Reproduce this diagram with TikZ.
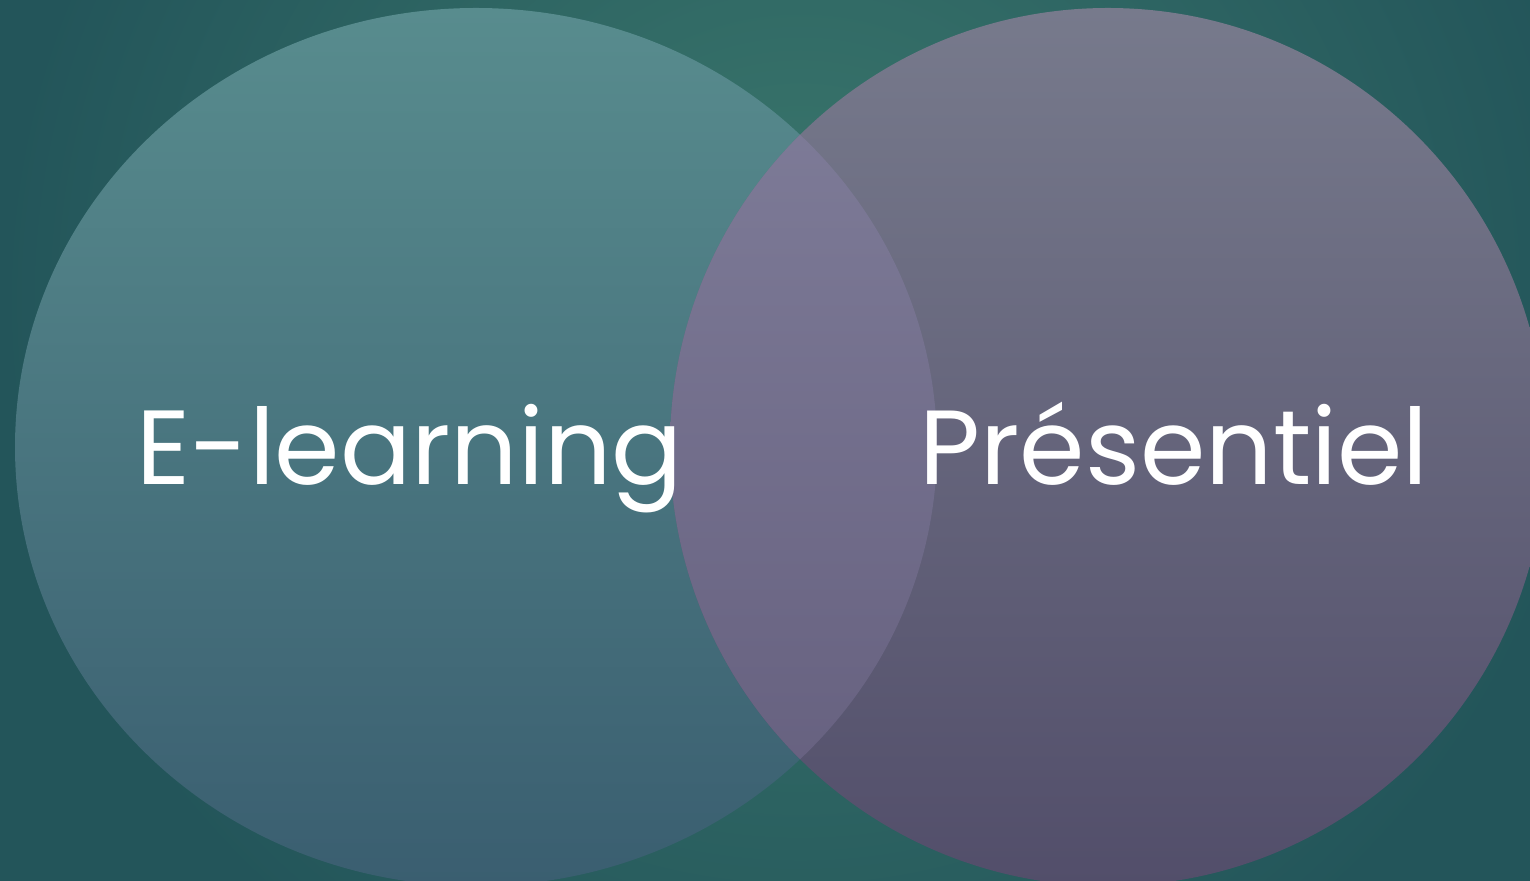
\documentclass[tikz,border=0pt]{standalone}
\usepackage{fontspec}
\setmainfont{Poppins}
\definecolor{bgdark}{HTML}{23555A}
\definecolor{bglight}{HTML}{3B786D}
\definecolor{elearntop}{HTML}{588C8E}
\definecolor{elearnbot}{HTML}{3A5E70}
\definecolor{prestop}{HTML}{777A8C}
\definecolor{presbot}{HTML}{524E6A}
\definecolor{overtop}{HTML}{817F9B}
\definecolor{overbot}{HTML}{635D7C}
\tikzset{venntext/.style={text=white, inner sep=0pt, anchor=base, font=\fontsize{30}{36}\selectfont}}

\begin{document}
\begin{tikzpicture}[x=0.1mm, y=-0.1mm]
    \useasboundingbox (0,0) rectangle (1530,881);
    \fill[bgdark] (0,0) rectangle (1530,881);
    \begin{scope}
      \clip (0,0) rectangle (1530,881);
      \shade[inner color=bglight, outer color=bgdark] (800,300) ellipse [x radius=800, y radius=800];
      \shade[top color=elearntop, bottom color=elearnbot] (476,447) ellipse [x radius=461, y radius=439];
      \shade[top color=prestop, bottom color=presbot] (1108,447) ellipse [x radius=438, y radius=439];
      \clip (476,447) ellipse [x radius=461, y radius=439];
      \shade[top color=overtop, bottom color=overbot] (1108,447) ellipse [x radius=438, y radius=439];
    \end{scope}

    \node[venntext] (elearn) at (410,485) {E-learning};
    \node[venntext] (presentiel) at (1174,485) {Présentiel};
\end{tikzpicture}
\end{document}
